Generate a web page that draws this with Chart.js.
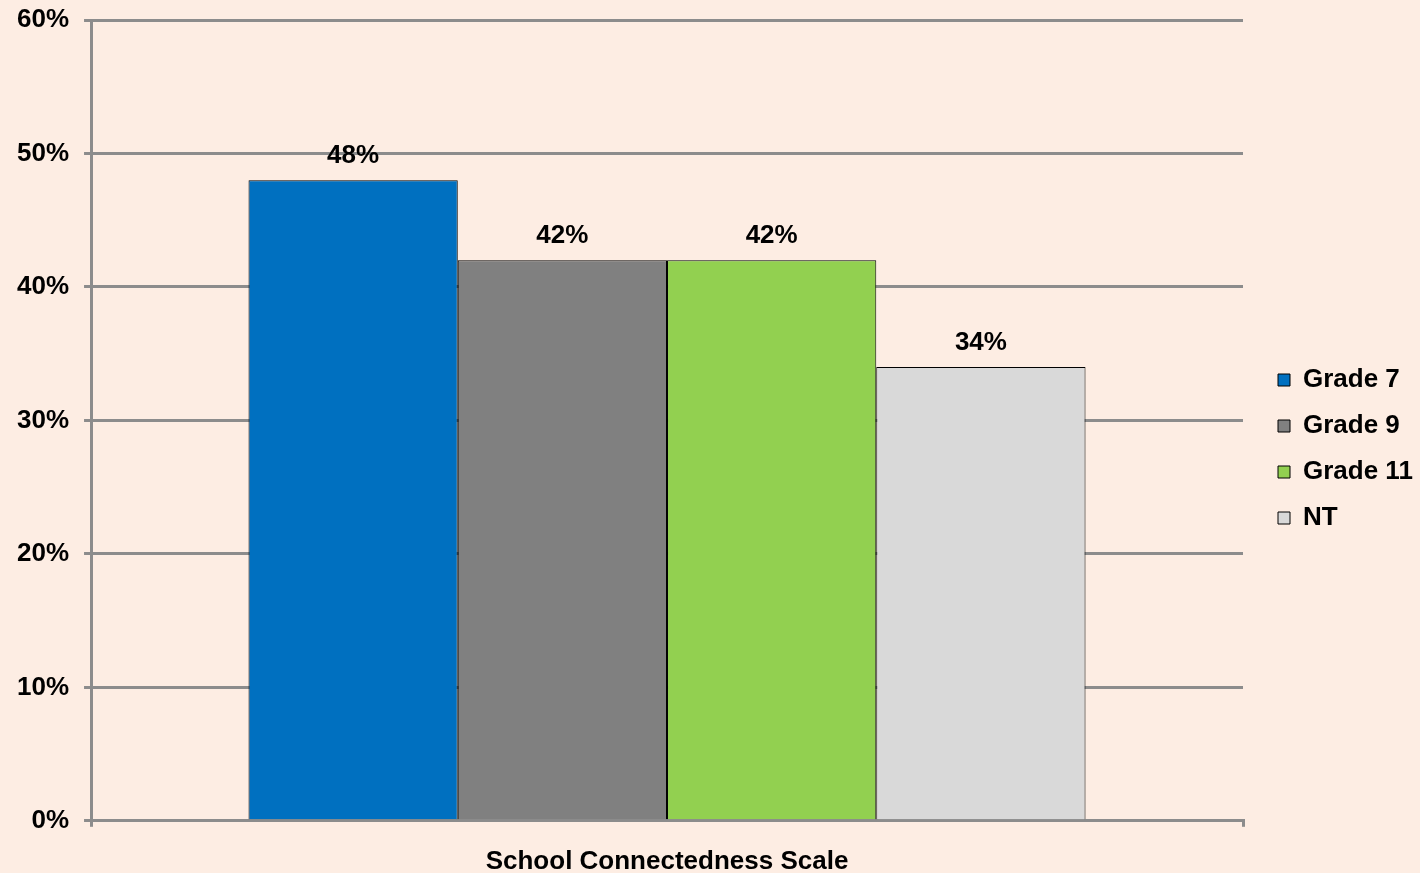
<!DOCTYPE html>
<html>
<head>
<meta charset="utf-8">
<script src="https://cdn.jsdelivr.net/npm/chart.js@4/dist/chart.umd.min.js"></script>
<style>
    html, body { margin: 0; padding: 0; background: #FDEDE3; }
    #wrap { width: 1420px; height: 873px; position: relative; }
</style>
</head>
<body>
<div id="wrap"><canvas id="connectednessChart"></canvas></div>
<script>
// data
const categories = ['School Connectedness Scale'];
const seriesNames = ['Grade 7', 'Grade 9', 'Grade 11', 'NT'];
const seriesValues = [0.48, 0.42, 0.42, 0.34];
const seriesColors = ['#0070C0', '#808080', '#92D050', '#D9D9D9'];
const yTicks = [0, 0.1, 0.2, 0.3, 0.4, 0.5, 0.6];

const gridGrey = '#8C8C8C';
const labelFont = { family: '"Liberation Sans", Arial, sans-serif', size: 26, weight: 'bold' };

function pct(v) {
    return Math.round(v * 100) + '%';
}

// widen the legend box so the plot stops where the reference does, then push the items right
const legendGap = {
    id: 'legendGap',
    beforeInit(chart) {
        const fit = chart.legend.fit;
        chart.legend.fit = function () {
            fit.call(this);
            this.width = Math.max(this.width, 177);
        };
    },
    afterLayout(chart) {
        const lg = chart.legend;
        lg.left = chart.chartArea.right + 15;
        lg.top -= 9;
        lg.bottom -= 9;
    }
};

// value labels above each bar
const valueLabels = {
    id: 'valueLabels',
    afterDatasetsDraw(chart) {
        const ctx = chart.ctx;
        ctx.save();
        ctx.font = 'bold 26px "Liberation Sans", Arial, sans-serif';
        ctx.fillStyle = '#000';
        ctx.textAlign = 'center';
        ctx.textBaseline = 'alphabetic';
        chart.data.datasets.forEach((ds, i) => {
            chart.getDatasetMeta(i).data.forEach((bar, j) => {
                ctx.fillText(pct(ds.data[j]), bar.x, bar.y - 17);
            });
        });
        ctx.restore();
    }
};

const ctx = document.getElementById('connectednessChart').getContext('2d');
const connectednessChart = new Chart(ctx, {
    type: 'bar',
    data: {
        labels: categories,
        datasets: seriesNames.map((name, i) => ({
            label: name,
            data: [seriesValues[i]],
            backgroundColor: seriesColors[i],
            borderColor: '#000',
            borderWidth: 1,
            categoryPercentage: 0.7266,
            barPercentage: 1
        }))
    },
    options: {
        responsive: true,
        maintainAspectRatio: false,
        animation: false,
        layout: {
            padding: { left: 2, top: 20, right: 0, bottom: -23 }
        },
        scales: {
            x: {
                grid: { drawOnChartArea: false, color: gridGrey, lineWidth: 3, tickLength: 6 },
                border: { color: gridGrey, width: 3 },
                ticks: { color: '#000', font: labelFont, padding: 19 }
            },
            y: {
                min: 0,
                max: 0.6,
                afterBuildTicks(scale) {
                    scale.ticks = yTicks.map(v => ({ value: v }));
                },
                afterFit(scale) {
                    scale.paddingTop = 0;
                    scale.paddingBottom = 0;
                },
                grid: { color: gridGrey, lineWidth: 3, tickLength: 7 },
                border: { color: gridGrey, width: 3 },
                ticks: { color: '#000', font: labelFont, padding: 15, callback: v => pct(v) }
            }
        },
        plugins: {
            legend: {
                position: 'right',
                labels: {
                    color: '#000',
                    font: labelFont,
                    boxWidth: 12,
                    boxHeight: 12,
                    padding: 20
                }
            },
            tooltip: { enabled: false }
        }
    },
    plugins: [legendGap, valueLabels]
});
</script>
</body>
</html>
